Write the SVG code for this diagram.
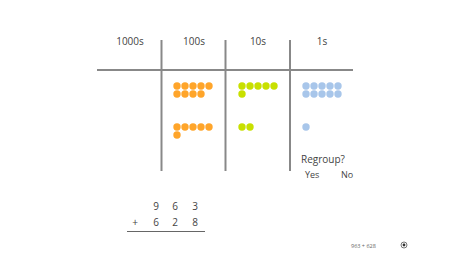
<svg xmlns="http://www.w3.org/2000/svg" width="450" height="253" viewBox="0 0 450 253">
<style>
.t{font-family:"Open Sans","Noto Sans","Liberation Sans",sans-serif;fill:#444;font-size:10px}
.c{text-anchor:middle}
.ln{stroke:#888;stroke-width:2;fill:none}
.o{fill:#FFA52A}
.g{fill:#C8E000}
.b{fill:#A8C6EA}
</style>
<rect width="450" height="253" fill="#fff"/>
<g id="grid">
<line class="ln" x1="97" y1="70" x2="353" y2="70"/>
<line class="ln" x1="161.5" y1="40" x2="161.5" y2="171"/>
<line class="ln" x1="225.5" y1="40" x2="225.5" y2="171"/>
<line class="ln" x1="290" y1="40" x2="290" y2="171"/>
</g>
<g id="headers">
<text class="t c" x="130" y="45">1000s</text>
<text class="t c" x="194" y="45">100s</text>
<text class="t c" x="258" y="45">10s</text>
<text class="t c" x="322" y="45">1s</text>
</g>
<g id="hundreds">
<circle class="o" cx="177" cy="86" r="3.7"/><circle class="o" cx="185" cy="86" r="3.7"/><circle class="o" cx="193" cy="86" r="3.7"/><circle class="o" cx="201" cy="86" r="3.7"/><circle class="o" cx="209" cy="86" r="3.7"/>
<circle class="o" cx="177" cy="94" r="3.7"/><circle class="o" cx="185" cy="94" r="3.7"/><circle class="o" cx="193" cy="94" r="3.7"/><circle class="o" cx="201" cy="94" r="3.7"/>
<circle class="o" cx="177" cy="127" r="3.7"/><circle class="o" cx="185" cy="127" r="3.7"/><circle class="o" cx="193" cy="127" r="3.7"/><circle class="o" cx="201" cy="127" r="3.7"/><circle class="o" cx="209" cy="127" r="3.7"/>
<circle class="o" cx="177" cy="135" r="3.7"/>
</g>
<g id="tens">
<circle class="g" cx="242" cy="86" r="3.7"/><circle class="g" cx="250" cy="86" r="3.7"/><circle class="g" cx="258" cy="86" r="3.7"/><circle class="g" cx="266" cy="86" r="3.7"/><circle class="g" cx="274" cy="86" r="3.7"/>
<circle class="g" cx="242" cy="94" r="3.7"/>
<circle class="g" cx="242" cy="127" r="3.7"/><circle class="g" cx="250" cy="127" r="3.7"/>
</g>
<g id="ones">
<circle class="b" cx="306" cy="86" r="3.7"/><circle class="b" cx="314" cy="86" r="3.7"/><circle class="b" cx="322" cy="86" r="3.7"/><circle class="b" cx="330" cy="86" r="3.7"/><circle class="b" cx="338" cy="86" r="3.7"/>
<circle class="b" cx="306" cy="94" r="3.7"/><circle class="b" cx="314" cy="94" r="3.7"/><circle class="b" cx="322" cy="94" r="3.7"/><circle class="b" cx="330" cy="94" r="3.7"/><circle class="b" cx="338" cy="94" r="3.7"/>
<circle class="b" cx="306" cy="127" r="3.7"/>
</g>
<g id="regroup">
<text class="t" x="301" y="163">Regroup?</text>
<text class="t" x="305" y="178" style="font-size:9px">Yes</text>
<text class="t" x="341" y="178" style="font-size:9px">No</text>
</g>
<g id="sum">
<text class="t c" x="156" y="210">9</text>
<text class="t c" x="175" y="210">6</text>
<text class="t c" x="195" y="210">3</text>
<text class="t c" x="135" y="226">+</text>
<text class="t c" x="156" y="226">6</text>
<text class="t c" x="175" y="226">2</text>
<text class="t c" x="195" y="226">8</text>
<line x1="127" y1="231.5" x2="205" y2="231.5" stroke="#666" stroke-width="1"/>
</g>
<g id="footer">
<text class="t" x="351" y="248" style="font-size:5.5px;fill:#666">963 + 628</text>
<circle cx="404" cy="245" r="3" fill="none" stroke="#555" stroke-width="0.8"/>
<circle cx="404" cy="245" r="1.4" fill="#333"/>
</g>
</svg>
